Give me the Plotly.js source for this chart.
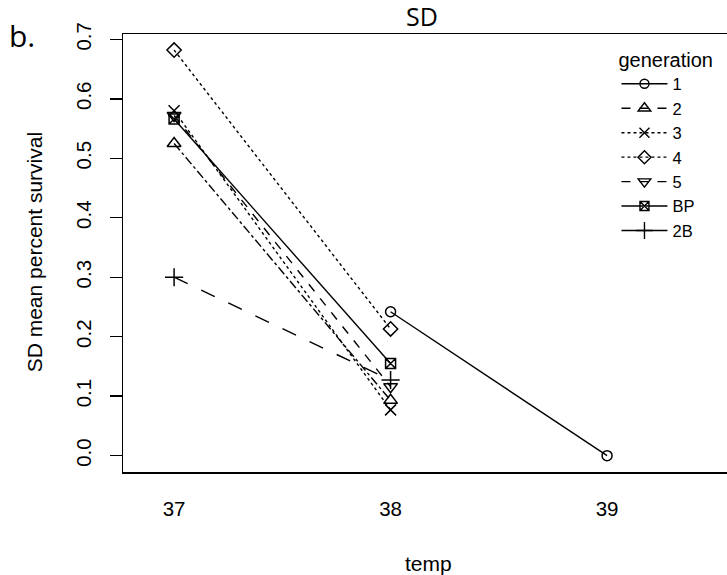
<!DOCTYPE html>
<html>
<head>
<meta charset="utf-8">
<script src="https://cdn.plot.ly/plotly-3.0.1.min.js"></script>
<style>html,body{margin:0;padding:0;background:#fff;}#chart{width:727px;height:575px;}</style>
</head>
<body>
<div id="chart"></div>
<script>
// ---- data ----
const temps = [37, 38, 39];
const tempLabels = ["37", "38", "39"];
const yTicks = [0, 0.1, 0.2, 0.3, 0.4, 0.5, 0.6, 0.7];
const yTickLabels = ["0.0", "0.1", "0.2", "0.3", "0.4", "0.5", "0.6", "0.7"];
const generations = ["1", "2", "3", "4", "5", "BP", "2B"];
const gen1  = [null, 0.242, 0.0];
const gen2  = [0.525, 0.093, null];
const gen3  = [0.580, 0.077, null];
const gen4  = [0.682, 0.213, null];
const gen5  = [0.572, 0.116, null];
const genBP = [0.566, 0.155, null];
const gen2B = [0.300, 0.127, null];
const seriesValues = [gen1, gen2, gen3, gen4, gen5, genBP, gen2B];

// ---- styles ----
const symbols = ["circle-open", "triangle-up-open", "x-thin-open", "diamond-open",
                 "triangle-down-open", "square-x-open", "cross-thin-open"];
const sizes = [10, 12, 11, 11, 12, 10, 13];
const plotDash = ["solid", "dashdot", "dot", "dot", "dash", "solid", "longdash"];
const legendDash = ["solid", "dash", "dot", "dot", "dash", "solid", "solid"];

const traces = [];
seriesValues.forEach((vals, i) => {
  traces.push({
    x: temps, y: vals, type: "scatter", mode: "lines+markers",
    showlegend: false, connectgaps: false, cliponaxis: false,
    line: {color: "#000", width: 1.4, dash: plotDash[i]},
    marker: {symbol: symbols[i], size: sizes[i], color: "#000", line: {color: "#000", width: 1.5}},
    hoverinfo: "skip"
  });
});
generations.forEach((g, i) => {
  traces.push({
    x: [null], y: [null], type: "scatter", mode: "lines+markers", name: g,
    showlegend: true,
    line: {color: "#000", width: 1.4, dash: legendDash[i]},
    marker: {symbol: symbols[i], size: sizes[i] - 1, color: "#000", line: {color: "#000", width: 1.4}}
  });
});

const fam = "Liberation Sans, Arial, Helvetica, sans-serif";
const axFont = {family: fam, size: 20.5, color: "#000"};
const layout = {
  width: 727, height: 575,
  margin: {l: 123, r: 0, t: 34, b: 103},
  paper_bgcolor: "#fff", plot_bgcolor: "#fff",
  showlegend: true,
  legend: {
    x: 0.817, y: 0.985, xanchor: "left", yanchor: "top",
    bgcolor: "rgba(0,0,0,0)", borderwidth: 0,
    font: {family: fam, size: 16.5, color: "#000"}, itemwidth: 46, tracegroupgap: 0,
    title: {text: "generation", font: {family: fam, size: 20, color: "#000"}}
  },
  xaxis: {
    range: [36.764, 39.554], tickvals: temps, ticktext: tempLabels,
    showgrid: false, zeroline: false, showline: true, mirror: true,
    linecolor: "#000", linewidth: 1.5, ticks: "", tickfont: axFont,
    ticklabelstandoff: 18
  },
  yaxis: {
    range: [-0.0275, 0.709], tickvals: yTicks, ticktext: yTickLabels,
    showgrid: false, zeroline: false, showline: true,
    linecolor: "#000", linewidth: 1.5, ticks: "outside", ticklen: 12, tickwidth: 1.4,
    tickcolor: "#000", tickfont: axFont, tickangle: -90, ticklabelstandoff: 10
  },
  annotations: [
    {text: "temp", xref: "paper", yref: "paper", x: 0.505, y: -0.208,
     xanchor: "center", yanchor: "middle", showarrow: false, font: {family: fam, size: 21, color: "#000"}},
    {text: "SD mean percent survival", xref: "paper", yref: "paper", x: -0.147, y: 0.502,
     xanchor: "center", yanchor: "middle", textangle: -90, showarrow: false,
     font: {family: fam, size: 21, color: "#000"}},
    {text: "SD", xref: "paper", yref: "paper", x: (422 - 123) / 604, y: 1.0 + (34 - 16) / 438,
     xanchor: "center", yanchor: "middle", showarrow: false,
     font: {family: "Open Sans, Lato, sans-serif", size: 25, color: "#000"}},
    {text: "b.", xref: "paper", yref: "paper", x: (22 - 123) / 604, y: 1.0 + (34 - 36) / 438,
     xanchor: "center", yanchor: "middle", showarrow: false,
     font: {family: "Open Sans, Lato, sans-serif", size: 30, color: "#000"}}
  ]
};
Plotly.newPlot("chart", traces, layout, {staticPlot: true, displayModeBar: false});
</script>
</body>
</html>
